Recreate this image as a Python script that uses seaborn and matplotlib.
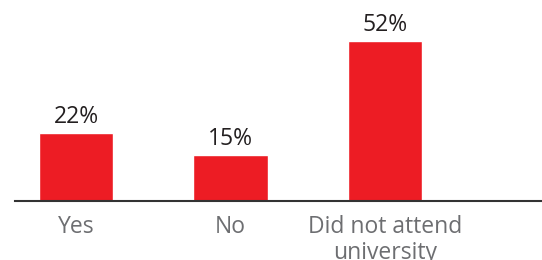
import pandas as pd
import numpy as np

import matplotlib
matplotlib.use("Agg")
import matplotlib.pyplot as plt
import seaborn as sns

# ### Data
categories = ["Yes", "No", "Did not attend\nuniversity"]
values = [22, 15, 52]

df = pd.DataFrame({"answer": categories, "share": values})

sns.set_theme(style="white")
plt.rcParams["font.family"] = ["Open Sans", "DejaVu Sans"]

fig = plt.figure(figsize=(5.42, 2.6), dpi=100)
ax = fig.add_axes([0, 59 / 260, 1, 201 / 260])

# Paint the bars
sns.barplot(x="answer", y="share", data=df, color="#ed1c24", width=0.485,
            saturation=1, ax=ax)

# Values on top of the bars
for p in ax.patches:
    ax.annotate(f"{p.get_height():.0f}%",
                (p.get_x() + p.get_width() / 2, p.get_height()),
                ha="center", va="bottom", xytext=(0, 3),
                textcoords="offset points", fontsize=16.5, color="#231f20")

ax.set_xlim(-0.492, 3.016)
ax.set_ylim(0, 65.3)
ax.set_xlabel("")
ax.set_ylabel("")
ax.set_yticks([])

for side in ["top", "right", "left"]:
    ax.spines[side].set_visible(False)
ax.spines["bottom"].set_color("#333333")
ax.spines["bottom"].set_linewidth(1.5)
ax.spines["bottom"].set_bounds(-0.395, 3.02)

ax.tick_params(axis="x", length=0, pad=10, labelsize=16.5, labelcolor="#6d6e71")
for lab in ax.get_xticklabels():
    lab.set_linespacing(1.1)

fig.savefig("out.png", dpi=100)
